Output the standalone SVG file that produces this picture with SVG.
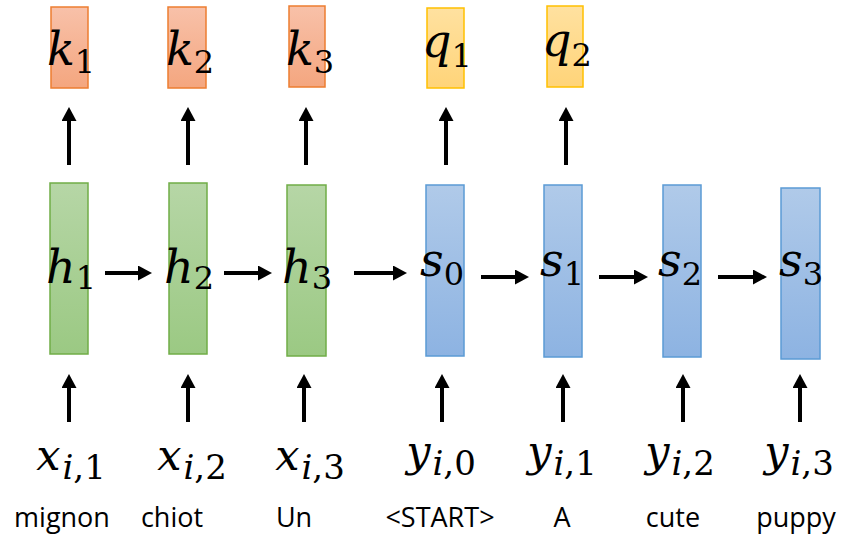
<svg xmlns="http://www.w3.org/2000/svg" width="843" height="537" viewBox="0 0 843 537">
  <defs>
    <linearGradient id="gOrange" x1="0" y1="0" x2="0" y2="1">
      <stop offset="0" stop-color="#F8C1A9"/>
      <stop offset="1" stop-color="#F4A67F"/>
    </linearGradient>
    <linearGradient id="gYellow" x1="0" y1="0" x2="0" y2="1">
      <stop offset="0" stop-color="#FFE1A0"/>
      <stop offset="1" stop-color="#FFD479"/>
    </linearGradient>
    <linearGradient id="gGreen" x1="0" y1="0" x2="0" y2="1">
      <stop offset="0" stop-color="#B6D6A6"/>
      <stop offset="1" stop-color="#9BC983"/>
    </linearGradient>
    <linearGradient id="gBlue" x1="0" y1="0" x2="0" y2="1">
      <stop offset="0" stop-color="#B0CAE9"/>
      <stop offset="1" stop-color="#8DB3E2"/>
    </linearGradient>
    <marker id="head" viewBox="0 0 14 15" markerUnits="userSpaceOnUse" markerWidth="14" markerHeight="15" refX="4" refY="7.5" orient="auto">
      <path d="M0,0 L14,7.5 L0,15 z" fill="#000"/>
    </marker>
  </defs>
  <style>
    .key { fill: url(#gOrange); stroke: #ED7D31; stroke-width: 1.5; }
    .qry { fill: url(#gYellow); stroke: #FFC000; stroke-width: 1.5; }
    .enc { fill: url(#gGreen); stroke: #70AD47; stroke-width: 1.5; }
    .dec { fill: url(#gBlue); stroke: #5B9BD5; stroke-width: 1.5; }
    .arrow { stroke: #000; stroke-width: 4; fill: none; marker-end: url(#head); }
    .m { font-family: "DejaVu Serif", serif; font-size: 46px; fill: #000; text-anchor: middle; }
    .mi { font-style: italic; }
    .sub { font-size: 32px; font-style: normal; }
    .in { font-family: "DejaVu Serif", serif; font-size: 43px; fill: #000; text-anchor: middle; }
    .in .sub { font-size: 34px; }
    .word { font-family: "Open Sans", "Liberation Sans", sans-serif; font-size: 27px; fill: #000; text-anchor: middle; }
  </style>

  <!-- keys -->
  <g id="k1"><rect class="key" x="51" y="7" width="37" height="81"/><text class="m" x="71" y="65"><tspan class="mi">k</tspan><tspan class="sub" dy="8">1</tspan></text></g>
  <g id="k2"><rect class="key" x="168" y="7" width="38" height="81"/><text class="m" x="190" y="65"><tspan class="mi">k</tspan><tspan class="sub" dy="8">2</tspan></text></g>
  <g id="k3"><rect class="key" x="289" y="6" width="36" height="81"/><text class="m" x="310" y="65"><tspan class="mi">k</tspan><tspan class="sub" dy="8">3</tspan></text></g>

  <!-- queries -->
  <g id="q1"><rect class="qry" x="427" y="8" width="37" height="80"/><text class="m" x="447" y="57"><tspan class="mi">q</tspan><tspan class="sub" dy="10">1</tspan></text></g>
  <g id="q2"><rect class="qry" x="547" y="6" width="36" height="81"/><text class="m" x="567" y="56"><tspan class="mi">q</tspan><tspan class="sub" dy="10">2</tspan></text></g>

  <!-- encoder states -->
  <g id="h1"><rect class="enc" x="50" y="183" width="38" height="171"/><text class="m" x="71" y="283"><tspan class="mi">h</tspan><tspan class="sub" dy="6">1</tspan></text></g>
  <g id="h2"><rect class="enc" x="169" y="183" width="38" height="171"/><text class="m" x="189" y="283"><tspan class="mi">h</tspan><tspan class="sub" dy="6">2</tspan></text></g>
  <g id="h3"><rect class="enc" x="287" y="185" width="39" height="171"/><text class="m" x="307" y="283"><tspan class="mi">h</tspan><tspan class="sub" dy="6">3</tspan></text></g>

  <!-- decoder states -->
  <g id="s0"><rect class="dec" x="426" y="185" width="38" height="171"/><text class="m" x="442" y="276"><tspan class="mi">s</tspan><tspan class="sub" dy="9">0</tspan></text></g>
  <g id="s1"><rect class="dec" x="544" y="185" width="38" height="172"/><text class="m" x="562" y="276"><tspan class="mi">s</tspan><tspan class="sub" dy="9">1</tspan></text></g>
  <g id="s2"><rect class="dec" x="663" y="185" width="38" height="172"/><text class="m" x="680" y="276"><tspan class="mi">s</tspan><tspan class="sub" dy="9">2</tspan></text></g>
  <g id="s3"><rect class="dec" x="781" y="188" width="39" height="171"/><text class="m" x="801" y="276"><tspan class="mi">s</tspan><tspan class="sub" dy="9">3</tspan></text></g>

  <!-- inputs -->
  <g id="x1"><text class="in" x="71" y="470"><tspan class="mi">x</tspan><tspan class="sub" dy="9" dx="2"><tspan class="mi">i</tspan>,1</tspan></text><text class="word" x="62" y="527">mignon</text></g>
  <g id="x2"><text class="in" x="192" y="470"><tspan class="mi">x</tspan><tspan class="sub" dy="9" dx="2"><tspan class="mi">i</tspan>,2</tspan></text><text class="word" x="172" y="527">chiot</text></g>
  <g id="x3"><text class="in" x="310" y="470"><tspan class="mi">x</tspan><tspan class="sub" dy="9" dx="2"><tspan class="mi">i</tspan>,3</tspan></text><text class="word" x="294" y="527">Un</text></g>
  <g id="y0"><text class="in" x="441" y="466"><tspan class="mi">y</tspan><tspan class="sub" dy="9" dx="2"><tspan class="mi">i</tspan>,0</tspan></text><text class="word" x="440" y="527">&lt;START&gt;</text></g>
  <g id="y1"><text class="in" x="562" y="466"><tspan class="mi">y</tspan><tspan class="sub" dy="9" dx="2"><tspan class="mi">i</tspan>,1</tspan></text><text class="word" x="562" y="527">A</text></g>
  <g id="y2"><text class="in" x="680" y="466"><tspan class="mi">y</tspan><tspan class="sub" dy="9" dx="2"><tspan class="mi">i</tspan>,2</tspan></text><text class="word" x="673" y="527">cute</text></g>
  <g id="y3"><text class="in" x="799" y="466"><tspan class="mi">y</tspan><tspan class="sub" dy="9" dx="2"><tspan class="mi">i</tspan>,3</tspan></text><text class="word" x="796" y="527">puppy</text></g>

  <!-- connectors -->
  <g id="connectors">
    <!-- states to keys / queries -->
    <line class="arrow" x1="69" y1="165" x2="69" y2="117"/>
    <line class="arrow" x1="188" y1="165" x2="188" y2="117"/>
    <line class="arrow" x1="306" y1="165" x2="306" y2="117"/>
    <line class="arrow" x1="446" y1="165" x2="446" y2="117"/>
    <line class="arrow" x1="566" y1="165" x2="566" y2="117"/>
    <!-- recurrence -->
    <line class="arrow" x1="105" y1="273" x2="142" y2="273"/>
    <line class="arrow" x1="224" y1="273" x2="262" y2="273"/>
    <line class="arrow" x1="354" y1="273" x2="397" y2="273"/>
    <line class="arrow" x1="481" y1="277" x2="519" y2="277"/>
    <line class="arrow" x1="599" y1="277" x2="638" y2="277"/>
    <line class="arrow" x1="718" y1="277" x2="757" y2="277"/>
    <!-- inputs to states -->
    <line class="arrow" x1="69" y1="422" x2="69" y2="384"/>
    <line class="arrow" x1="188" y1="422" x2="188" y2="384"/>
    <line class="arrow" x1="304" y1="422" x2="304" y2="384"/>
    <line class="arrow" x1="442" y1="422" x2="442" y2="384"/>
    <line class="arrow" x1="563" y1="422" x2="563" y2="384"/>
    <line class="arrow" x1="683" y1="422" x2="683" y2="384"/>
    <line class="arrow" x1="800" y1="422" x2="800" y2="384"/>
  </g>
</svg>
